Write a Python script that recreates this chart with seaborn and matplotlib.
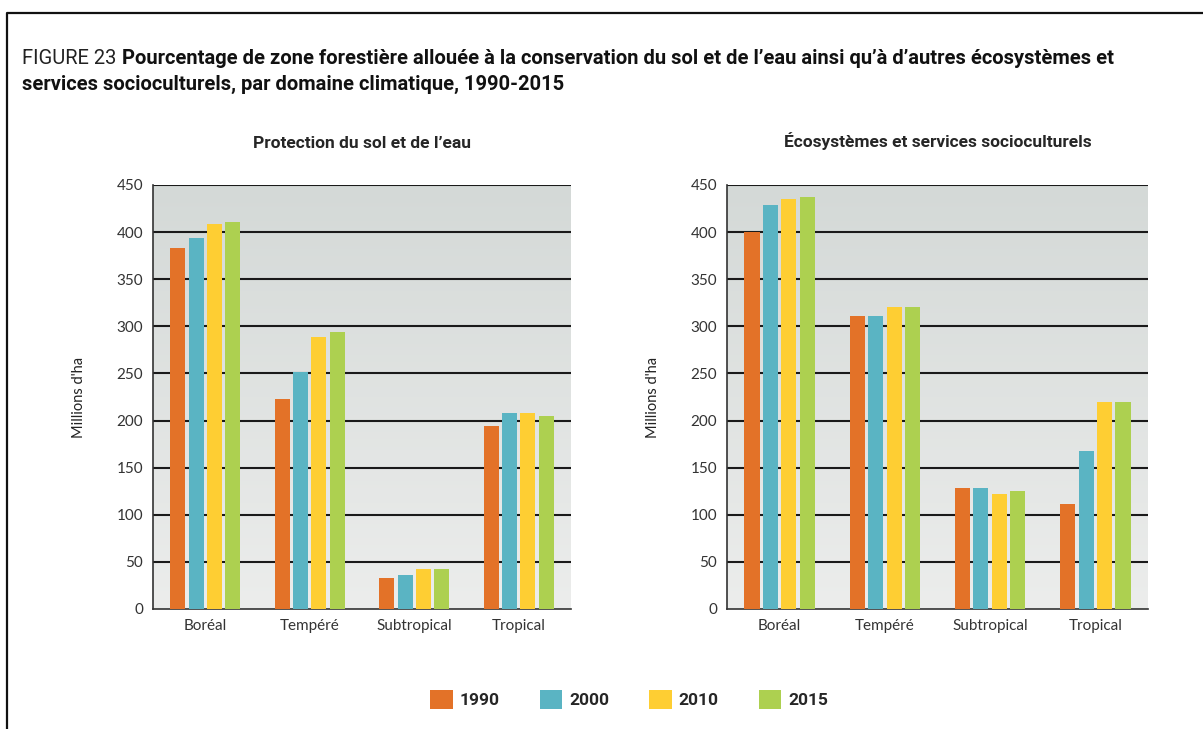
import numpy as np
import pandas as pd
import matplotlib
matplotlib.use("Agg")
import matplotlib.pyplot as plt
import seaborn as sns

# Donnees (millions d'ha)
domaines = ["Boréal", "Tempéré", "Subtropical", "Tropical"]
annees = ["1990", "2000", "2010", "2015"]

protection_1990 = [383, 223, 33, 194]
protection_2000 = [394, 252, 36, 208]
protection_2010 = [409, 289, 42, 208]
protection_2015 = [411, 294, 42, 205]

ecosys_1990 = [400, 311, 128, 111]
ecosys_2000 = [429, 311, 128, 168]
ecosys_2010 = [435, 320, 122, 220]
ecosys_2015 = [437, 320, 125, 220]

couleurs = ["#E37228", "#5AB4C3", "#FECE33", "#ADD050"]
yticks = [0, 50, 100, 150, 200, 250, 300, 350, 400, 450]


def to_long(series):
    rows = []
    for annee, vals in zip(annees, series):
        for dom, v in zip(domaines, vals):
            rows.append({"domaine": dom, "annee": annee, "valeur": v})
    return pd.DataFrame(rows)


df_prot = to_long([protection_1990, protection_2000, protection_2010, protection_2015])
df_eco = to_long([ecosys_1990, ecosys_2000, ecosys_2010, ecosys_2015])

sns.set_style("white")
plt.rcParams["font.family"] = ["Lato", "DejaVu Sans"]
narrow = ["Roboto", "DejaVu Sans"]

fig = plt.figure(figsize=(12.03, 7.29), dpi=100)
ax1 = fig.add_axes([153 / 1203, 1 - 609 / 729, 418 / 1203, 424 / 729])
ax2 = fig.add_axes([727 / 1203, 1 - 609 / 729, 421 / 1203, 424 / 729])

gradient = np.linspace(0, 1, 256).reshape(-1, 1)
cmap = matplotlib.colors.LinearSegmentedColormap.from_list("fond", ["#ECEDEC", "#D4D9D7"])

for ax, df, titre in [(ax1, df_prot, "Protection du sol et de l’eau"),
                      (ax2, df_eco, "Écosystèmes et services socioculturels")]:
    ax.imshow(gradient, aspect="auto", cmap=cmap, origin="lower",
              extent=(-0.5, 3.5, 0, 450), zorder=0)
    sns.barplot(data=df, x="domaine", y="valeur", hue="annee", palette=couleurs,
                width=0.7, gap=0.18, ax=ax, zorder=3, legend=True, saturation=1,
                linewidth=0, edgecolor="none")
    ax.set_xlim(-0.5, 3.5)
    ax.set_ylim(0, 450)
    ax.set_yticks(yticks)
    for y in yticks[1:]:
        ax.axhline(y, color="#1a1a1a", lw=1.5, zorder=2)
    for s in ["top", "right"]:
        ax.spines[s].set_visible(False)
    ax.spines["left"].set_color("#333333")
    ax.spines["bottom"].set_color("#333333")
    ax.spines["left"].set_linewidth(1.2)
    ax.spines["bottom"].set_linewidth(1.2)
    ax.tick_params(axis="both", length=0, labelsize=11, colors="#333333", pad=7)
    ax.set_xlabel("")
    ax.set_ylabel("Millions d'ha", fontsize=10.5, color="#222222", labelpad=22)
    ax.set_title(titre, fontsize=12.5, fontweight="bold", family=narrow, pad=27)
    ax.get_legend().remove()

handles, labels = ax1.get_legend_handles_labels()
fig.legend(handles, labels, loc="center", bbox_to_anchor=(0.523, 0.041), ncol=4,
           frameon=False, handlelength=1.3, handleheight=1.3, handletextpad=0.4,
           columnspacing=2.3, prop={"weight": "bold", "size": 12.5, "family": narrow})

# titre de la figure
taille = 14.5
t1 = fig.text(22 / 1203, 1 - 58 / 729, "FIGURE 23", fontsize=taille, family=narrow,
              color="#222222", va="center")
fig.canvas.draw()
bb = t1.get_window_extent()
t2 = fig.text(bb.x1 / 1203 + 0.005, 1 - 58 / 729,
              "Pourcentage de zone forestière allouée à la conservation du sol et de l’eau ainsi qu’à d’autres écosystèmes et",
              fontsize=taille, family=narrow, fontweight="bold", color="#111111", va="center")
fig.canvas.draw()
largeur = t2.get_window_extent().x1
if largeur > 1130:
    taille = taille * (1130 - 22) / (largeur - 22)
    t1.set_fontsize(taille)
    fig.canvas.draw()
    bb = t1.get_window_extent()
    t2.set_fontsize(taille)
    t2.set_x(bb.x1 / 1203 + 0.005)
fig.text(22 / 1203, 1 - 84 / 729,
         "services socioculturels, par domaine climatique, 1990-2015",
         fontsize=taille, family=narrow, fontweight="bold", color="#111111", va="center")

# cadre
fig.add_artist(plt.Line2D([7 / 1203, 7 / 1203, 1], [0, 1 - 13 / 729, 1 - 13 / 729],
                          color="#111111", lw=1.6, transform=fig.transFigure))

fig.savefig("out.png", dpi=100)
